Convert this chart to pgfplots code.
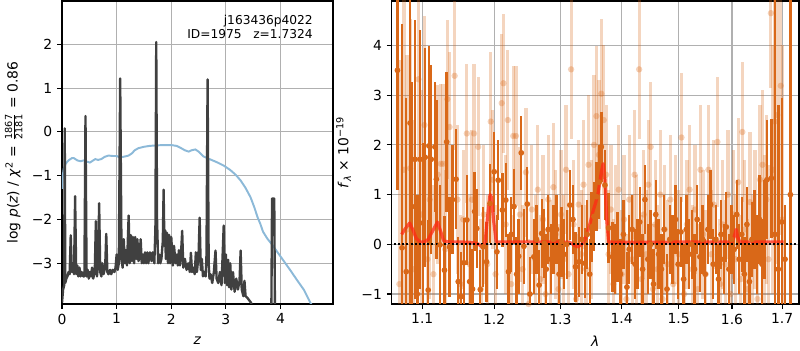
\documentclass[border=0pt]{standalone}
\usepackage{fontspec}
\setmainfont{DejaVu Sans}
\usepackage{pgfplots}
\usepackage{pgfplotstable}
\pgfplotsset{compat=1.18}
\definecolor{dko}{RGB}{217,104,24}
\definecolor{pzblue}{RGB}{140,185,216}
\definecolor{gridc}{RGB}{176,176,176}
\definecolor{pzline}{RGB}{64,64,64}
\definecolor{modred}{RGB}{255,40,20}

\pgfplotstableread{
x y e
1.0675 3.50 2.40
1.0735 -0.07 4.50
1.0790 -0.55 3.50
1.0840 2.44 3.80
1.0865 0.76 2.50
1.0905 1.71 2.80
1.0935 -1.00 2.00
1.0970 1.71 2.60
1.1010 0.43 1.60
1.1040 1.75 2.20
1.1080 -0.92 1.40
1.1090 1.98 2.00
1.1120 1.71 1.90
1.1170 1.96 1.30
1.1190 1.31 1.60
1.1240 -0.01 1.20
1.1300 -0.52 1.10
1.1330 2.06 1.40
1.1370 -0.05 1.00
1.1410 0.90 1.10
1.1460 1.31 1.00
1.1490 -0.75 0.90
1.1530 -1.05 0.90
1.1570 -0.37 0.90
1.1610 0.49 0.90
1.1650 -0.75 0.80
1.1690 -0.90 0.80
1.1720 0.66 0.80
1.1750 0.32 0.80
1.1800 -0.91 0.80
1.1840 -0.05 0.80
1.1890 -0.35 0.80
1.1940 0.82 0.80
1.2000 1.46 0.80
1.2040 -0.15 0.75
1.2060 1.29 0.80
1.2120 0.69 0.75
1.2170 0.89 0.75
1.2210 -0.55 0.75
1.2250 0.20 0.75
1.2290 0.76 0.75
1.2330 -0.60 0.75
1.2360 -0.24 0.75
1.2400 1.84 0.75
1.2440 -0.04 0.75
1.2490 0.81 0.75
1.2530 -1.00 0.75
1.2590 -0.25 0.75
1.2630 0.10 0.70
1.2670 -0.82 0.70
1.2710 0.22 0.70
1.2750 0.02 0.70
1.2780 -0.50 0.70
1.2810 0.30 0.70
1.2850 -0.30 0.70
1.2890 0.10 0.70
1.2940 0.30 0.70
1.2980 -0.60 0.70
1.3020 0.05 0.70
1.3060 -0.20 0.70
1.3100 0.00 0.70
1.3150 0.79 0.70
1.3200 0.50 0.70
1.3240 -0.45 0.70
1.3300 -0.35 0.70
1.3340 0.10 0.70
1.3390 -0.38 0.70
1.3430 0.20 0.70
1.3470 -0.60 0.70
1.3500 0.35 0.70
1.3540 0.56 0.70
1.3580 0.96 0.70
1.3626 1.25 0.75
1.3660 1.96 0.70
1.3720 1.19 0.70
1.3780 0.33 0.70
1.3845 -0.25 0.70
1.3890 -0.30 0.70
1.3930 -0.05 0.70
1.3980 -0.60 0.70
1.4030 0.20 0.70
1.4090 -0.86 0.70
1.4130 -0.10 0.70
1.4180 0.30 0.70
1.4230 -0.40 0.70
1.4270 -0.20 0.70
1.4310 0.45 0.70
1.4360 -0.50 0.70
1.4400 0.90 0.70
1.4450 -0.30 0.70
1.4500 0.00 0.70
1.4550 -0.80 0.70
1.4590 0.60 0.70
1.4640 -0.20 0.70
1.4690 -0.50 0.70
1.4740 0.30 0.70
1.4790 -0.90 0.70
1.4840 0.10 0.70
1.4890 -0.10 0.70
1.4940 0.50 0.70
1.4990 -0.40 0.70
1.5040 0.25 0.70
1.5090 -0.70 0.70
1.5140 0.30 0.70
1.5190 -0.20 0.70
1.5240 0.00 0.70
1.5290 -0.50 0.70
1.5340 0.50 0.70
1.5390 -0.25 0.70
1.5440 0.10 0.70
1.5490 -0.60 0.70
1.5540 0.30 0.70
1.5590 0.80 0.70
1.5640 -0.40 0.70
1.5690 0.10 0.70
1.5740 -0.70 0.70
1.5790 0.20 0.70
1.5840 -0.30 0.70
1.5890 0.35 0.70
1.5940 -0.50 0.70
1.5990 0.10 0.70
1.6040 -0.10 0.70
1.6090 0.60 0.70
1.6140 -0.30 0.70
1.6190 0.20 0.75
1.6240 -0.60 0.75
1.6290 0.40 0.75
1.6340 -0.75 0.75
1.6390 0.10 0.75
1.6440 0.30 0.80
1.6490 -0.20 0.80
1.6540 0.50 0.90
1.6590 -0.40 0.90
1.6640 0.30 1.00
1.6690 1.30 1.20
1.6780 1.33 1.20
1.6850 0.20 5.00
1.6920 -0.50 3.30
1.6990 0.45 2.50
1.7060 -0.30 1.10
1.7170 1.00 8.00
}\darktab

\pgfplotstableread{
x y e
1.0700 -0.80 4.50
1.0760 1.50 4.00
1.0800 0.30 3.50
1.0840 1.53 3.00
1.0880 -0.50 3.00
1.0950 3.32 2.50
1.0990 0.60 2.50
1.1030 2.40 2.20
1.1070 -0.30 2.00
1.1100 0.90 2.00
1.1150 -0.60 1.80
1.1210 1.40 1.80
1.1250 1.62 1.60
1.1280 1.62 1.60
1.1310 -0.10 1.60
1.1340 2.92 1.60
1.1370 2.36 1.50
1.1440 3.39 1.50
1.1480 0.90 1.50
1.1520 -0.80 1.40
1.1560 0.50 1.40
1.1610 2.23 1.40
1.1650 -0.40 1.40
1.1680 0.90 1.40
1.1710 2.23 1.40
1.1770 1.96 1.40
1.1810 -0.90 1.40
1.1850 0.60 1.40
1.1900 -0.40 1.40
1.1950 2.47 1.40
1.1980 1.30 1.40
1.2020 -0.60 1.40
1.2110 2.84 1.40
1.2135 3.24 1.40
1.2170 0.40 1.40
1.2200 2.50 1.40
1.2250 -0.80 1.40
1.2280 2.18 1.40
1.2320 2.18 1.40
1.2380 0.60 1.35
1.2420 -0.50 1.30
1.2470 1.45 1.30
1.2510 -1.20 1.30
1.2560 0.70 1.30
1.2610 -0.30 1.30
1.2650 1.10 1.30
1.2690 -0.70 1.30
1.2730 0.50 1.30
1.2770 -1.00 1.30
1.2810 0.90 1.30
1.2850 -0.40 1.30
1.2890 1.15 1.30
1.2930 0.20 1.30
1.2970 -0.90 1.30
1.3010 0.60 1.30
1.3050 -0.30 1.30
1.3090 1.50 1.30
1.3130 -0.60 1.30
1.3170 3.52 1.40
1.3210 0.40 1.30
1.3250 -1.10 1.30
1.3290 0.80 1.30
1.3330 -0.20 1.30
1.3370 1.20 1.30
1.3410 -0.50 1.30
1.3450 1.60 1.40
1.3500 0.30 1.40
1.3540 2.00 1.40
1.3580 2.58 1.40
1.3620 1.80 1.50
1.3660 3.03 1.50
1.3700 2.50 1.50
1.3740 1.40 1.40
1.3780 -0.20 1.30
1.3820 0.70 1.30
1.3860 -0.80 1.30
1.3900 0.30 1.30
1.3950 1.10 1.30
1.4000 -0.60 1.30
1.4040 0.50 1.30
1.4080 -1.10 1.30
1.4130 0.90 1.30
1.4180 -0.30 1.30
1.4220 1.40 1.30
1.4260 0.10 1.30
1.4300 3.52 1.40
1.4340 -0.70 1.30
1.4380 0.60 1.30
1.4420 -0.20 1.30
1.4460 1.20 1.30
1.4500 1.96 1.30
1.4540 -0.90 1.30
1.4580 0.40 1.30
1.4620 -0.50 1.30
1.4670 1.00 1.30
1.4710 -1.10 1.30
1.4750 0.30 1.30
1.4800 -0.40 1.30
1.4850 0.90 1.30
1.4900 -0.80 1.30
1.4950 0.50 1.30
1.5000 -0.20 1.30
1.5050 2.15 1.30
1.5100 -1.00 1.30
1.5150 0.40 1.30
1.5200 1.10 1.30
1.5250 -0.50 1.30
1.5300 0.70 1.30
1.5350 -0.90 1.30
1.5400 1.50 1.30
1.5450 0.20 1.30
1.5500 -0.60 1.30
1.5550 1.50 1.30
1.5600 -0.20 1.30
1.5650 0.80 1.30
1.5720 2.06 1.30
1.5770 -0.80 1.30
1.5820 0.40 1.30
1.5870 -0.40 1.30
1.5920 1.00 1.30
1.5970 -1.00 1.30
1.6020 0.60 1.30
1.6070 -0.30 1.30
1.6120 1.25 1.30
1.6170 -0.70 1.30
1.6200 2.26 1.40
1.6250 0.30 1.40
1.6300 -0.90 1.40
1.6350 0.85 1.40
1.6400 -0.40 1.40
1.6450 0.50 1.40
1.6500 -1.10 1.40
1.6550 1.30 1.50
1.6600 1.60 1.50
1.6640 0.20 1.60
1.6680 0.90 1.70
1.6720 -0.30 1.90
1.6770 4.65 1.50
1.6810 1.50 2.50
1.6850 2.47 2.50
1.6900 2.60 3.00
1.6970 3.19 3.00
1.7000 0.50 3.50
}\lighttab

\pgfplotsset{mystyle/.style={
  scale only axis, height=218.16pt,
  grid=major, grid style={gridc, line width=0.8pt},
  axis line style={line width=0.8pt},
  tick align=outside, tick pos=left, major tick length=3.5pt,
  tick style={black, line width=0.8pt},
  tick label style={font=\fontsize{10}{12}\selectfont},
  label style={font=\fontsize{10}{12}\selectfont},
}}

\begin{document}
\begin{tikzpicture}
\useasboundingbox (0,0) rectangle (576pt,252pt);
% ---------- left: p(z) ----------
\begin{axis}[mystyle,
  at={(44.64pt,33.12pt)}, anchor=south west, width=195.1pt,
  xmin=0, xmax=4.96, ymin=-3.93, ymax=2.99,
  xtick={0,1,2,3,4}, xticklabels={0,1,2,3,4},
  ytick={-3,-2,-1,0,1,2}, yticklabels={−3,−2,−1,0,1,2},
  xlabel={\textit{z}},
  xlabel style={at={(axis description cs:0.5,-0.122)}, anchor=center},
  ylabel={log \textit{p}(\textit{z}) / \textit{χ}\textsuperscript{2} = $\frac{\hbox{\fontsize{7}{7}\selectfont 1867}}{\hbox{\fontsize{7}{7}\selectfont 2181}}$ = 0.86},
  ylabel style={at={(axis description cs:-0.178,0.5)}, anchor=center},
]
\addplot[pzblue, line width=1.4pt] coordinates {
(0.0,-1.3) (0.01,-1.05) (0.03,-0.85) (0.07,-0.72) (0.12,-0.65) (0.18,-0.6) (0.22,-0.6) (0.28,-0.65) (0.34,-0.67) (0.4,-0.65) (0.46,-0.68) (0.51,-0.70) (0.56,-0.66) (0.61,-0.62) (0.66,-0.64) (0.72,-0.62) (0.78,-0.57) (0.85,-0.54) (0.93,-0.55) (1.0,-0.55) (1.05,-0.58) (1.12,-0.57) (1.22,-0.54) (1.28,-0.49) (1.33,-0.42) (1.40,-0.37) (1.50,-0.34) (1.60,-0.32) (1.70,-0.31) (1.85,-0.30) (2.0,-0.30) (2.1,-0.32) (2.18,-0.37) (2.25,-0.42) (2.32,-0.45) (2.37,-0.42) (2.44,-0.40) (2.5,-0.45) (2.59,-0.56) (2.7,-0.62) (2.85,-0.70) (2.96,-0.77) (3.08,-0.87) (3.18,-0.98) (3.27,-1.11) (3.36,-1.28) (3.45,-1.49) (3.52,-1.72) (3.58,-1.95) (3.63,-2.10) (3.68,-2.28) (3.76,-2.44) (3.85,-2.58) (3.94,-2.74) (4.06,-2.95) (4.18,-3.16) (4.30,-3.38) (4.43,-3.61) (4.55,-3.91) (4.6,-4.0)
};
\addplot[pzline, line width=1.7pt, line join=round] coordinates {
(0.00,-3.9) (0.02,-3.6) (0.04,-3.5) (0.05,0.08) (0.06,-3.45) (0.08,-3.35) (0.10,-3.3) (0.12,-3.2) (0.14,-3.25) (0.16,-2.36) (0.18,-3.2) (0.20,-3.0) (0.22,-3.25) (0.24,-1.47) (0.26,-3.25) (0.28,-3.05) (0.30,-3.3) (0.32,-3.1) (0.34,-3.3) (0.36,-3.2) (0.39,-3.3) (0.41,-3.3) (0.43,0.36) (0.45,-3.3) (0.47,-3.15) (0.49,-3.35) (0.51,-3.2) (0.53,-3.3) (0.55,-3.1) (0.57,-3.35) (0.60,-3.2) (0.62,-2.04) (0.64,-3.3) (0.66,-3.05) (0.68,-1.63) (0.70,-3.2) (0.72,-3.3) (0.74,-3.0) (0.76,-3.25) (0.79,-3.1) (0.81,-2.33) (0.83,-3.2) (0.85,-3.25) (0.88,-3.15) (0.90,-3.25) (0.93,-3.15) (0.96,-3.2) (0.98,-3.1) (1.0,-2.8) (1.02,-3.15) (1.04,-3.0) (1.065,1.22) (1.09,-2.9) (1.11,-3.1) (1.13,-2.45) (1.15,-3.0) (1.17,-2.7) (1.19,-3.05) (1.22,-1.91) (1.24,-3.0) (1.26,-2.36) (1.28,-2.95) (1.30,-2.4) (1.32,-3.0) (1.34,-2.4) (1.36,-2.9) (1.38,-2.45) (1.40,-2.95) (1.42,-2.85) (1.44,-2.45) (1.46,-3.0) (1.48,-2.8) (1.50,-3.0) (1.52,-2.75) (1.54,-3.0) (1.56,-2.75) (1.58,-3.0) (1.61,-2.75) (1.64,-2.95) (1.66,-2.75) (1.69,-3.0) (1.71,-2.2) (1.725,2.05) (1.74,-2.0) (1.76,-3.0) (1.78,-2.8) (1.80,-3.0) (1.82,-2.9) (1.845,-2.5) (1.86,-1.32) (1.875,-2.6) (1.89,-2.25) (1.90,-2.9) (1.92,-2.3) (1.94,-3.0) (1.96,-2.35) (1.98,-3.0) (2.0,-2.4) (2.03,-3.05) (2.05,-2.6) (2.08,-3.0) (2.10,-2.8) (2.12,-3.05) (2.14,-2.7) (2.16,-3.05) (2.18,-2.75) (2.20,-2.26) (2.22,-3.1) (2.25,-2.9) (2.28,-3.15) (2.31,-3.0) (2.34,-3.2) (2.36,-2.76) (2.38,-3.2) (2.40,-3.1) (2.43,-3.25) (2.45,-2.75) (2.47,-3.2) (2.50,-2.8) (2.52,-1.96) (2.54,-3.15) (2.56,-2.9) (2.58,-3.3) (2.60,-3.2) (2.63,-3.3) (2.645,-2.8) (2.665,1.2) (2.685,-3.0) (2.70,-3.35) (2.72,-3.25) (2.75,-3.45) (2.78,-3.2) (2.81,-2.71) (2.83,-3.35) (2.86,-3.45) (2.89,-3.2) (2.92,-3.5) (2.96,-2.14) (2.98,-3.45) (3.00,-2.8) (3.02,-3.5) (3.04,-2.92) (3.06,-3.55) (3.08,-3.0) (3.10,-3.6) (3.13,-3.2) (3.16,-3.65) (3.19,-3.35) (3.22,-3.6) (3.25,-3.4) (3.27,-2.71) (3.29,-3.6) (3.32,-3.75) (3.34,-3.4) (3.36,-3.75) (3.40,-3.8) (3.43,-3.85) (3.46,-3.9) (3.50,-4.1) (3.55,-4.5) (3.83,-4.5) (3.845,-1.52) (3.885,-1.52) (3.90,-4.5) (4.9,-6)
};
\node[anchor=east, align=right, font=\fontsize{8.8}{10.2}\selectfont] at (axis description cs:0.9435,0.913) {j163436p4022\\ID=1975\ \ \ z=1.7324};
\end{axis}
% ---------- right: spectrum ----------
\begin{axis}[mystyle,
  at={(282.0pt,33.12pt)}, anchor=south west, width=293.3pt,
  xmode=log, xmin=1.0601, xmax=1.735, ymin=-1.20, ymax=4.895,
  xtick={1.1,1.2,1.3,1.4,1.5,1.6,1.7}, xticklabels={1.1,1.2,1.3,1.4,1.5,1.6,1.7},
  minor xtick={},
  ytick={-1,0,1,2,3,4}, yticklabels={−1,0,1,2,3,4},
  xlabel={\textit{λ}},
  xlabel style={at={(axis description cs:0.5,-0.122)}, anchor=center},
  ylabel={\textit{f}\raisebox{-0.35ex}{\fontsize{7}{7}\selectfont\textit{λ}} × 10\textsuperscript{−19}},
  ylabel style={at={(axis description cs:-0.118,0.5)}, anchor=center},
]
\addplot[dko, only marks, mark=*, mark size=2.3pt,
  mark options={draw opacity=0, fill=dko, fill opacity=0.3},
  error bars/.cd, y dir=both, y explicit, error mark=none,
  error bar style={line width=2.3pt, draw=dko, opacity=0.28}]
  table[x=x, y=y, y error=e] {\lighttab};
\addplot[dko, only marks, mark=*, mark size=2.1pt,
  mark options={draw opacity=0, fill=dko},
  error bars/.cd, y dir=both, y explicit, error mark=none,
  error bar style={line width=1.7pt, draw=dko}]
  table[x=x, y=y, y error=e] {\darktab};
\addplot[modred, line width=2.3pt, opacity=0.75, line join=round] coordinates {
(1.073,0.2) (1.077,0.3) (1.0835,0.43) (1.088,0.28) (1.092,0.12) (1.097,0.05) (1.103,0.05) (1.108,0.1) (1.114,0.27) (1.1205,0.45) (1.125,0.25) (1.129,0.07) (1.135,0.05) (1.150,0.05) (1.165,0.04) (1.175,0.02) (1.183,-0.05) (1.187,0.05) (1.190,0.5) (1.194,1.0) (1.196,0.95) (1.199,0.5) (1.203,0.05) (1.22,0.05) (1.30,0.05) (1.315,0.04) (1.322,-0.02) (1.328,-0.05) (1.334,0.0) (1.340,0.12) (1.346,0.35) (1.352,0.65) (1.357,0.85) (1.361,1.05) (1.366,1.45) (1.369,1.62) (1.372,1.3) (1.375,0.5) (1.378,0.05) (1.39,0.04) (1.60,0.05) (1.604,0.15) (1.608,0.3) (1.611,0.15) (1.615,0.05) (1.703,0.05)
};
\addplot[black, line width=1.4pt, dash pattern=on 1.4pt off 1.6pt] coordinates {(1.063,0) (1.731,0)};
\node[font=\fontsize{5}{6}\selectfont] at (axis description cs:0.859,-0.1165) {Sun Apr 26 09:19:14 2020};
\end{axis}
\end{tikzpicture}
\end{document}
